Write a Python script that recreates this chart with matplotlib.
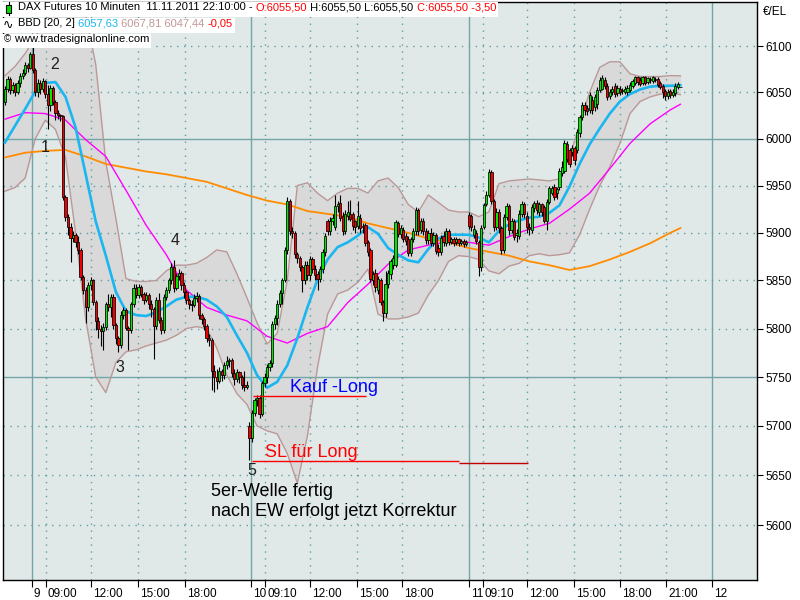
import numpy as np
import matplotlib
matplotlib.use("Agg")
import matplotlib.pyplot as plt
import matplotlib.transforms as mtrans
from matplotlib.patches import Rectangle
from matplotlib.ticker import FixedLocator, NullLocator, FuncFormatter

plt.rcParams['font.family'] = ['Liberation Sans', 'DejaVu Sans']

# DAX Futures 10-Minuten-Kerzen (Index 0 = letzte Kerzen 8.11., bis 11.11.2011 22:10)
opens = [6040, 6053, 6064, 6052, 6058, 6050, 6060, 6068, 6071, 6079,
         6076, 6092, 6074, 6050, 6060, 6054, 6062, 6048, 6036, 6055,
         6040, 6028, 6025, 6024, 5938, 5917, 5906, 5895, 5898, 5890,
         5882, 5854, 5840, 5822, 5845, 5850, 5828, 5808, 5800, 5797,
         5802, 5826, 5822, 5833, 5804, 5790, 5783, 5814, 5819, 5801,
         5798, 5825, 5842, 5835, 5843, 5836, 5830, 5835, 5826, 5820,
         5803, 5830, 5809, 5798, 5833, 5840, 5850, 5864, 5842, 5855,
         5858, 5845, 5838, 5830, 5826, 5824, 5832, 5834, 5814, 5810,
         5803, 5790, 5788, 5756, 5750, 5746, 5756, 5752, 5762, 5766,
         5768, 5754, 5748, 5755, 5750, 5742, 5740, 5700, 5688, 5713,
         5726, 5728, 5712, 5744, 5750, 5760, 5764, 5805, 5811, 5826,
         5837, 5850, 5882, 5934, 5902, 5900, 5878, 5874, 5864, 5850,
         5866, 5856, 5872, 5862, 5857, 5852, 5862, 5880, 5912, 5902,
         5912, 5906, 5928, 5932, 5918, 5902, 5918, 5920, 5920, 5912,
         5907, 5916, 5906, 5908, 5890, 5882, 5850, 5858, 5840, 5850,
         5828, 5816, 5846, 5857, 5866, 5866, 5910, 5899, 5903, 5897,
         5894, 5879, 5894, 5902, 5924, 5903, 5913, 5902, 5892, 5900,
         5889, 5898, 5884, 5880, 5897, 5889, 5902, 5890, 5893, 5890,
         5893, 5889, 5891, 5888, 5919, 5918, 5898, 5900, 5890, 5864,
         5906, 5930, 5940, 5964, 5934, 5906, 5922, 5905, 5882, 5917,
         5928, 5903, 5913, 5898, 5897, 5920, 5930, 5918, 5906, 5903,
         5926, 5931, 5922, 5930, 5927, 5913, 5933, 5942, 5948, 5942,
         5948, 5963, 5966, 5994, 5988, 5986, 5990, 5988, 6006, 6023,
         6036, 6033, 6031, 6042, 6034, 6037, 6052, 6054, 6063, 6057,
         6046, 6050, 6057, 6049, 6054, 6051, 6050, 6050, 6052, 6057,
         6060, 6066, 6063, 6060, 6066, 6061, 6064, 6062, 6064, 6064,
         6060, 6057, 6051, 6046, 6051, 6047, 6049, 6056, 6055.5]
highs = [6057, 6068, 6066, 6061, 6060, 6063, 6071, 6075, 6083, 6082,
         6094, 6101, 6076, 6064, 6063, 6065, 6063, 6058, 6058, 6057,
         6042, 6031, 6027, 6026, 5940, 5920, 5910, 5902, 5900, 5897,
         5884, 5856, 5843, 5848, 5854, 5852, 5830, 5812, 5804, 5806,
         5828, 5836, 5836, 5836, 5806, 5792, 5818, 5822, 5821, 5803,
         5828, 5846, 5846, 5846, 5845, 5838, 5838, 5837, 5830, 5822,
         5833, 5837, 5812, 5836, 5843, 5853, 5868, 5871, 5858, 5862,
         5860, 5848, 5840, 5832, 5830, 5836, 5838, 5836, 5816, 5812,
         5805, 5794, 5790, 5762, 5758, 5760, 5758, 5765, 5772, 5770,
         5770, 5758, 5758, 5756, 5752, 5756, 5746, 5704, 5716, 5728,
         5732, 5732, 5746, 5754, 5763, 5768, 5808, 5814, 5830, 5840,
         5853, 5885, 5938, 5936, 5906, 5902, 5880, 5876, 5866, 5870,
         5870, 5876, 5875, 5866, 5860, 5865, 5883, 5900, 5915, 5917,
         5920, 5940, 5934, 5940, 5922, 5924, 5934, 5935, 5922, 5914,
         5934, 5920, 5910, 5910, 5892, 5884, 5860, 5862, 5855, 5853,
         5830, 5860, 5861, 5872, 5877, 5914, 5913, 5908, 5906, 5900,
         5897, 5896, 5905, 5927, 5926, 5916, 5916, 5905, 5903, 5905,
         5901, 5900, 5888, 5898, 5902, 5905, 5904, 5896, 5896, 5896,
         5895, 5894, 5893, 5892, 5922, 5920, 5908, 5903, 5892, 5908,
         5932, 5944, 5968, 5967, 5936, 5926, 5925, 5907, 5920, 5932,
         5930, 5916, 5915, 5904, 5924, 5934, 5933, 5922, 5910, 5930,
         5934, 5935, 5933, 5932, 5929, 5936, 5950, 5950, 5952, 5949,
         5969, 5976, 5999, 5998, 5990, 5993, 5992, 6010, 6026, 6040,
         6040, 6036, 6050, 6046, 6048, 6056, 6066, 6069, 6066, 6060,
         6053, 6057, 6060, 6058, 6057, 6055, 6057, 6058, 6061, 6064,
         6068, 6068, 6066, 6068, 6068, 6067, 6066, 6068, 6066, 6066,
         6062, 6059, 6054, 6053, 6054, 6053, 6060, 6061, 6055.5]
lows = [6036, 6050, 6048, 6049, 6046, 6048, 6056, 6064, 6069, 6072,
        6075, 6071, 6046, 6045, 6048, 6050, 6044, 6010, 6030, 6036,
        6020, 6021, 6019, 5935, 5912, 5898, 5869, 5890, 5885, 5878,
        5850, 5836, 5806, 5818, 5840, 5824, 5798, 5790, 5782, 5778,
        5798, 5818, 5812, 5800, 5784, 5776, 5780, 5810, 5798, 5778,
        5795, 5822, 5832, 5832, 5833, 5826, 5828, 5820, 5812, 5769,
        5800, 5806, 5794, 5795, 5830, 5837, 5846, 5838, 5840, 5850,
        5840, 5832, 5826, 5820, 5818, 5822, 5828, 5810, 5805, 5798,
        5786, 5782, 5737, 5735, 5738, 5744, 5746, 5748, 5758, 5760,
        5750, 5742, 5745, 5744, 5738, 5736, 5738, 5665, 5684, 5710,
        5720, 5708, 5710, 5740, 5744, 5756, 5760, 5800, 5804, 5822,
        5826, 5848, 5878, 5898, 5895, 5874, 5868, 5860, 5838, 5846,
        5850, 5850, 5858, 5850, 5840, 5848, 5858, 5876, 5898, 5898,
        5908, 5903, 5922, 5912, 5898, 5899, 5914, 5912, 5903, 5900,
        5904, 5900, 5900, 5886, 5876, 5848, 5845, 5838, 5836, 5824,
        5808, 5812, 5842, 5852, 5862, 5864, 5896, 5895, 5890, 5887,
        5876, 5876, 5890, 5898, 5898, 5900, 5898, 5888, 5888, 5886,
        5886, 5878, 5876, 5877, 5886, 5886, 5887, 5888, 5886, 5887,
        5886, 5887, 5885, 5886, 5904, 5902, 5895, 5888, 5855, 5860,
        5904, 5928, 5938, 5930, 5902, 5903, 5900, 5878, 5879, 5914,
        5898, 5900, 5892, 5890, 5894, 5917, 5916, 5900, 5898, 5900,
        5922, 5920, 5918, 5918, 5910, 5903, 5930, 5940, 5935, 5936,
        5945, 5960, 5963, 5975, 5970, 5982, 5972, 5985, 6002, 6020,
        6026, 6026, 6028, 6027, 6030, 6032, 6050, 6052, 6054, 6042,
        6043, 6047, 6045, 6046, 6047, 6048, 6048, 6047, 6050, 6055,
        6058, 6058, 6057, 6058, 6058, 6059, 6060, 6060, 6061, 6056,
        6053, 6044, 6042, 6043, 6044, 6045, 6046, 6054, 6055.5]
closes = [6053, 6064, 6052, 6058, 6050, 6060, 6068, 6071, 6079, 6076,
          6092, 6074, 6050, 6060, 6054, 6062, 6048, 6036, 6055, 6040,
          6028, 6025, 6024, 5938, 5917, 5906, 5895, 5898, 5890, 5882,
          5854, 5840, 5822, 5845, 5850, 5828, 5808, 5800, 5797, 5802,
          5826, 5822, 5833, 5804, 5790, 5783, 5814, 5819, 5801, 5798,
          5825, 5842, 5835, 5843, 5836, 5830, 5835, 5826, 5820, 5803,
          5830, 5809, 5798, 5833, 5840, 5850, 5864, 5842, 5855, 5858,
          5845, 5838, 5830, 5826, 5824, 5832, 5834, 5814, 5810, 5803,
          5790, 5788, 5756, 5750, 5746, 5756, 5752, 5762, 5766, 5768,
          5754, 5748, 5755, 5750, 5742, 5740, 5742, 5688, 5713, 5726,
          5728, 5712, 5744, 5750, 5760, 5764, 5805, 5811, 5826, 5837,
          5850, 5882, 5934, 5902, 5900, 5878, 5874, 5864, 5850, 5866,
          5856, 5872, 5862, 5856, 5852, 5862, 5880, 5897, 5902, 5913,
          5916, 5928, 5930, 5916, 5902, 5920, 5922, 5915, 5907, 5906,
          5918, 5905, 5907, 5889, 5880, 5852, 5857, 5843, 5852, 5828,
          5816, 5846, 5858, 5870, 5874, 5911, 5899, 5905, 5894, 5891,
          5879, 5893, 5902, 5924, 5902, 5913, 5902, 5892, 5900, 5889,
          5898, 5881, 5880, 5895, 5890, 5902, 5890, 5893, 5889, 5893,
          5889, 5891, 5888, 5890, 5907, 5906, 5904, 5891, 5864, 5905,
          5929, 5940, 5964, 5934, 5906, 5922, 5905, 5882, 5917, 5928,
          5903, 5913, 5896, 5900, 5920, 5930, 5920, 5906, 5904, 5927,
          5931, 5924, 5930, 5922, 5913, 5933, 5947, 5947, 5938, 5946,
          5966, 5970, 5995, 5978, 5973, 5990, 5977, 6007, 6023, 6036,
          6031, 6030, 6047, 6031, 6045, 6052, 6063, 6065, 6057, 6045,
          6050, 6054, 6048, 6055, 6050, 6052, 6054, 6055, 6058, 6062,
          6066, 6061, 6059, 6066, 6060, 6065, 6063, 6066, 6063, 6058,
          6056, 6050, 6046, 6050, 6047, 6050, 6057, 6059, 6055.5]

band_idx = list(range(0, 269, 4))
bb_mid = [5996, 6014, 6032, 6051, 6060, 6061, 6045, 6012, 5962, 5912,
          5876, 5838, 5818, 5814, 5813, 5817, 5823, 5830, 5833, 5833,
          5830, 5823, 5812, 5793, 5775, 5752, 5739, 5745, 5762, 5790,
          5822, 5851, 5872, 5885, 5890, 5897, 5906, 5899, 5884, 5877,
          5871, 5869, 5883, 5894, 5898, 5898, 5898, 5895, 5890, 5902,
          5909, 5913, 5916, 5917, 5921, 5929, 5949, 5973, 5994, 6011,
          6027, 6040, 6048, 6053, 6056, 6057, 6057, 6057.6]
bb_upper = [6068, 6078, 6092, 6110, 6128, 6140, 6145, 6146, 6135, 6080,
            5975, 5915, 5852, 5849, 5849, 5850, 5860, 5866, 5866, 5868,
            5874, 5882, 5880, 5857, 5832, 5806, 5784, 5795, 5850, 5950,
            5953, 5942, 5934, 5942, 5947, 5947, 5942, 5955, 5958, 5948,
            5930, 5922, 5940, 5932, 5924, 5922, 5922, 5917, 5922, 5952,
            5955, 5956, 5957, 5956, 5955, 5957, 5980, 6015, 6050, 6077,
            6083, 6083, 6070, 6067, 6067, 6067, 6068, 6067.8]
bb_lower = [5944, 5948, 5958, 6000, 6020, 6010, 5980, 5900, 5810, 5750,
            5734, 5765, 5776, 5778, 5782, 5785, 5788, 5793, 5800, 5802,
            5800, 5780, 5752, 5733, 5722, 5700, 5695, 5692, 5672, 5642,
            5690, 5760, 5815, 5836, 5840, 5848, 5862, 5815, 5810, 5810,
            5812, 5816, 5835, 5850, 5870, 5876, 5875, 5872, 5860, 5857,
            5865, 5868, 5876, 5878, 5876, 5877, 5879, 5898, 5925, 5950,
            5970, 5995, 6027, 6040, 6045, 6048, 6049, 6047.4]

ma_idx = list(range(0, 265, 8)) + [268]
ma_magenta = [6021, 6028, 6027, 6020, 5999, 5981, 5945, 5908, 5877, 5840,
              5822, 5814, 5808, 5792, 5785, 5795, 5802, 5827, 5846, 5867,
              5882, 5887, 5891, 5890, 5887, 5896, 5904, 5910, 5925, 5942,
              5968, 5995, 6016, 6031, 6037]
ma_orange = [5980, 5985, 5987, 5988, 5981, 5973, 5969, 5965, 5962, 5958,
             5954, 5947, 5940, 5934, 5930, 5923, 5920, 5917, 5910, 5905,
             5900, 5894, 5890, 5884, 5880, 5876, 5870, 5866, 5861, 5865,
             5872, 5880, 5889, 5900, 5905]

# Zeitachse
day_pos = [10.7, 97.6, 184.1, 280.6]
day_labels = ['9', '10', '11', '12']
hour_pos = [16.2, 34.2, 52.6, 71.3, 103.3, 121, 139.5, 157.5,
            189.6, 207.3, 225.9, 244.1, 262.3]
hour_labels = ['09:00', '12:00', '15:00', '18:00', '09:10', '12:00', '15:00',
               '18:00', '09:10', '12:00', '15:00', '18:00', '21:00']
y_ticks = [5600, 5650, 5700, 5750, 5800, 5850, 5900, 5950, 6000, 6050, 6100]

# Elliott-Wellen-Markierungen
wave_labels = ['1', '2', '3', '4', '5']
wave_x = [15.9, 19.8, 45.6, 67.5, 98.0]
wave_y = [5991, 6080, 5760, 5892, 5655]
kauf_level = 5730.6
sl_level = 5664.5

fig = plt.figure(figsize=(8, 6), dpi=100)
fig.patch.set_facecolor('white')
ax = fig.add_axes([3 / 800, 20 / 600, 754 / 800, 578 / 600])
ax.set_facecolor('#e1e9e8')
ax.set_yscale('log')
ax.set_xlim(-0.8, 298.4)
ax.set_ylim(5545.3, 6148.3)

# Gitter
for v in y_ticks:
    if v in (6000, 5750):
        ax.axhline(v, color='#72a6a6', lw=1, zorder=1.5)
    else:
        ax.axhline(v, color='#5e9e9e', lw=1, ls=(0, (1, 4)), zorder=1.5)
for p in day_pos:
    ax.axvline(p, color='#72a6a6', lw=1, zorder=1.5)
for p in hour_pos:
    ax.axvline(p, color='#5e9e9e', lw=1, ls=(0, (1, 4)), zorder=1.5)

# Indikatoren
ax.fill_between(band_idx, bb_lower, bb_upper, color='#d9d9d9', lw=0, zorder=1)
ax.plot(band_idx, bb_upper, color='#bb9898', lw=1, zorder=2)
ax.plot(band_idx, bb_lower, color='#bb9898', lw=1, zorder=2)
ax.plot(ma_idx, ma_orange, color='#ff8c00', lw=1.3, zorder=3)
ax.plot(ma_idx, ma_magenta, color='#ff00ff', lw=1, zorder=3)
ax.plot(band_idx, bb_mid, color='#1ab6f0', lw=1.9, zorder=3)

# Kerzen
o = np.array(opens, float)
h = np.array(highs, float)
l = np.array(lows, float)
c = np.array(closes, float)
x = np.arange(len(c))
up = c >= o
ax.vlines(x, l, h, color='black', lw=0.8, zorder=4)
ax.bar(x[up], (c - o)[up], bottom=o[up], width=0.9, color='#00e800',
       edgecolor='black', lw=0.55, zorder=5)
ax.bar(x[~up], (o - c)[~up], bottom=c[~up], width=0.9, color='#f00000',
       edgecolor='black', lw=0.55, zorder=5)

# Markierungen
for t, wx, wy in zip(wave_labels, wave_x, wave_y):
    ax.text(wx, wy, t, fontsize=11.5, color='#202020', ha='center', va='center', zorder=6)
ax.hlines(kauf_level, 98.4, 143.3, color='red', lw=1, zorder=6)
ax.text(113.1, 5739, 'Kauf -Long', color='#0000ff', fontsize=13, va='center', zorder=6)
ax.hlines(sl_level, 98.0, 180.2, color='red', lw=1, zorder=6)
ax.hlines(5662.8, 180.2, 207.5, color='#c00000', lw=1, zorder=6)
ax.text(103.2, 5673, 'SL für Long', color='red', fontsize=13, va='center', zorder=6)
ax.text(81.7, 5634, '5er-Welle fertig', color='black', fontsize=13, va='center', zorder=6)
ax.text(81.7, 5614, 'nach EW erfolgt jetzt Korrektur', color='black', fontsize=13,
        va='center', zorder=6)

# Achsen
for s in ax.spines.values():
    s.set_color('black')
    s.set_linewidth(1)
ax.yaxis.tick_right()
ax.yaxis.set_major_locator(FixedLocator(y_ticks))
ax.yaxis.set_minor_locator(NullLocator())
ax.yaxis.set_major_formatter(FuncFormatter(lambda v, p: '%d' % v))
ax.tick_params(axis='y', length=4, width=0.8, pad=2, labelsize=8.5)

xt_pos = day_pos + hour_pos
xt_lab = day_labels + hour_labels
ax.set_xticks(xt_pos, xt_lab)
ax.xaxis.set_minor_locator(NullLocator())
ax.tick_params(axis='x', length=5, width=0.8, pad=1, labelsize=8.5)
shift = mtrans.ScaledTranslation(2 / 100, 0, fig.dpi_scale_trans)
for lab in ax.get_xticklabels():
    lab.set_horizontalalignment('left')
    lab.set_transform(lab.get_transform() + shift)

fig.text(763 / 800, 1 - 12 / 600, '€/EL', fontsize=8.5, va='center')

# Kopfzeilen
fig.canvas.draw()
renderer = fig.canvas.get_renderer()


def header_line(x0, ytop, parts, height, box=True):
    xx = x0
    for txt, col in parts:
        t = fig.text(xx / 800, 1 - ytop / 600, txt, color=col, fontsize=8,
                     va='top', ha='left', zorder=11)
        xx = t.get_window_extent(renderer).x1
    if box:
        fig.add_artist(Rectangle((0, 1 - (ytop + height) / 600), (xx + 2) / 800, height / 600,
                                 transform=fig.transFigure, facecolor='white',
                                 edgecolor='none', zorder=10))


header_line(18, 2, [('DAX Futures 10 Minuten', 'black'),
                    ('  11.11.2011 22:10:00 - ', 'black'),
                    ('O:6055,50', '#ff0000'),
                    (' H:6055,50 L:6055,50 ', 'black'),
                    ('C:6055,50 -3,50', '#ff0000')], 15)
header_line(18, 18, [('BBD [20, 2] ', 'black'),
                     ('6057,63 ', '#1ab6f0'),
                     ('6067,81 6047,44 ', '#c09898'),
                     ('-0,05', '#ff0000')], 15)
header_line(14, 34, [('www.tradesignalonline.com', 'black')], 14)

# kleine Symbole vor den Kopfzeilen
fig.add_artist(plt.Line2D([8.5 / 800, 8.5 / 800], [1 - 2 / 600, 1 - 15 / 600],
                          transform=fig.transFigure, color='black', lw=0.8, zorder=12))
fig.add_artist(Rectangle((6 / 800, 1 - 13 / 600), 5 / 800, 8 / 600, transform=fig.transFigure,
                         facecolor='#00e000', edgecolor='black', lw=0.8, zorder=13))
fig.text(3 / 800, 1 - 25 / 600, '∿', fontsize=9, va='center', family='DejaVu Sans', zorder=12)
fig.text(4 / 800, 1 - 39 / 600, '©', fontsize=7, va='center', zorder=12)

fig.savefig('out.png', dpi=100)
